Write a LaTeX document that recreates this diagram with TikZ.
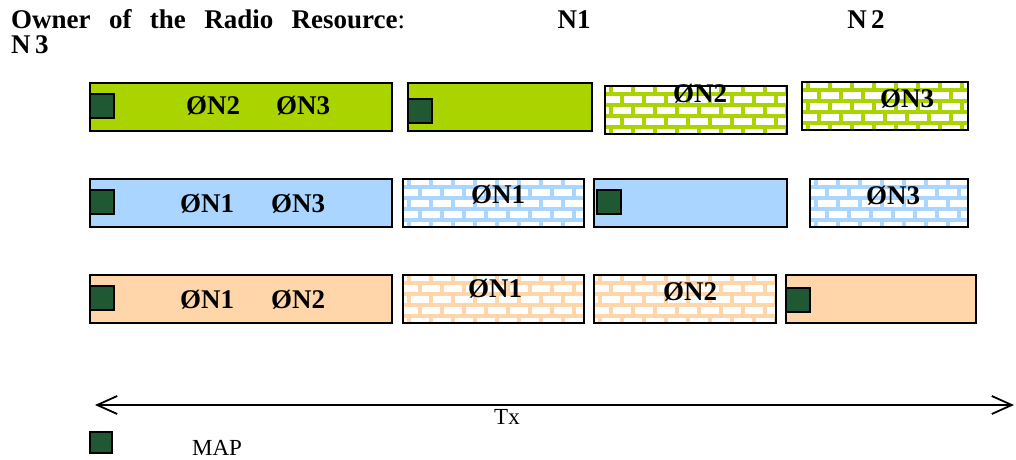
\documentclass[tikz,border=0pt]{standalone}
\usepackage{fontspec}
\setmainfont{Liberation Serif}
\usetikzlibrary{arrows.meta}
\definecolor{cgreen}{RGB}{170,212,0}
\definecolor{cblue}{RGB}{170,213,255}
\definecolor{cpeach}{RGB}{255,213,170}
\definecolor{mapgreen}{RGB}{32,88,52}
\newcommand{\brickpat}[2]{%
  \begin{scope}
    \clip (#1.north west) rectangle (#1.south east);
    \begin{scope}[shift={(#1.north west)}]
    \foreach \r in {0,...,4}{
      \draw[#2,line width=3.2] (0,\r*11+8) -- (320,\r*11+8);
    }
    \foreach \r in {0,...,5}{
      \pgfmathsetmacro\off{mod(\r,2)*11}
      \foreach \c in {0,...,14}{
        \draw[#2,line width=3.2] (\c*22+\off+6,\r*11-3) -- ++(0,11);
      }
    }
    \end{scope}
  \end{scope}
  \draw[line width=1.8pt] (#1.north west) rectangle (#1.south east);}
\tikzset{
  box/.style={draw=black,line width=1.8pt,anchor=north west,inner sep=0pt,outer sep=0pt,
    minimum width=#1pt,minimum height=48pt},
  brickbox/.style={box=#1,fill=white},
  mapsq/.style={draw=black,line width=1.5pt,fill=mapgreen,anchor=north west,inner sep=0pt,
    outer sep=0pt,minimum width=24pt,minimum height=24pt},
  lbl/.style={anchor=base,font=\fontsize{27}{29}\selectfont\bfseries,inner sep=0pt},
  title/.style={anchor=base west,font=\fontsize{27}{29}\selectfont\bfseries,inner sep=0pt},
  plain/.style={anchor=base,font=\fontsize{23}{25}\selectfont,inner sep=0pt},
}
\begin{document}
\begin{tikzpicture}[x=1pt,y=-1pt]
\useasboundingbox (0,0) rectangle (1016,459);
% title
\node[title] (t0) at (11,28) {\makebox[394pt][s]{Owner of the Radio Resource\mdseries:}};
\node[title,anchor=base] (t1) at (574,28) {N1};
\node[title,anchor=base] (t2) at (866,28) {N\,2};
\node[title] (t3) at (11,53) {N\,3};
% row 1 (green)
\node[box=302,fill=cgreen] (g1) at (90,83) {};
\node[mapsq] (m1) at (90,94) {};
\node[lbl] (g1a) at (213,114) {ØN2};
\node[lbl] (g1b) at (303,114) {ØN3};
\node[box=184,fill=cgreen] (g2) at (408,83) {};
\node[mapsq] (m2) at (408,99) {};
\node[brickbox=182] (g3) at (605,86) {};
\brickpat{g3}{cgreen}
\node[lbl] (g3a) at (700,102) {ØN2};
\node[brickbox=166] (g4) at (802,82) {};
\brickpat{g4}{cgreen}
\node[lbl] (g4a) at (907,107) {ØN3};
% row 2 (blue)
\node[box=302,fill=cblue] (b1) at (90,179) {};
\node[mapsq] (m3) at (90,190) {};
\node[lbl] (b1a) at (207,212) {ØN1};
\node[lbl] (b1b) at (298,212) {ØN3};
\node[brickbox=181] (b2) at (403,179) {};
\brickpat{b2}{cblue}
\node[lbl] (b2a) at (498,203) {ØN1};
\node[box=193,fill=cblue] (b3) at (594,179) {};
\node[mapsq] (m4) at (597,190) {};
\node[brickbox=158] (b4) at (810,179) {};
\brickpat{b4}{cblue}
\node[lbl] (b4a) at (893,204) {ØN3};
% row 3 (peach)
\node[box=302,fill=cpeach] (p1) at (90,275) {};
\node[mapsq] (m5) at (90,286) {};
\node[lbl] (p1a) at (207,308) {ØN1};
\node[lbl] (p1b) at (298,308) {ØN2};
\node[brickbox=181] (p2) at (403,275) {};
\brickpat{p2}{cpeach}
\node[lbl] (p2a) at (495,297) {ØN1};
\node[brickbox=182] (p3) at (594,275) {};
\brickpat{p3}{cpeach}
\node[lbl] (p3a) at (690,300) {ØN2};
\node[box=190,fill=cpeach] (p4) at (786,275) {};
\node[mapsq] (m6) at (786,288) {};
% Tx axis
\coordinate (axl) at (95,405);
\coordinate (axr) at (1014,405);
\draw[line width=1.8pt,{Straight Barb[length=20pt,width=18pt,line width=1.8pt]}-{Straight Barb[length=20pt,width=18pt,line width=1.8pt]}] (axl) -- (axr);
\node[plain] (tx) at (507,424) {Tx};
% legend
\node[mapsq,minimum width=22pt,minimum height=21pt] (leg) at (90,432) {};
\node[plain] (map) at (217,455) {MAP};
\end{tikzpicture}
\end{document}
